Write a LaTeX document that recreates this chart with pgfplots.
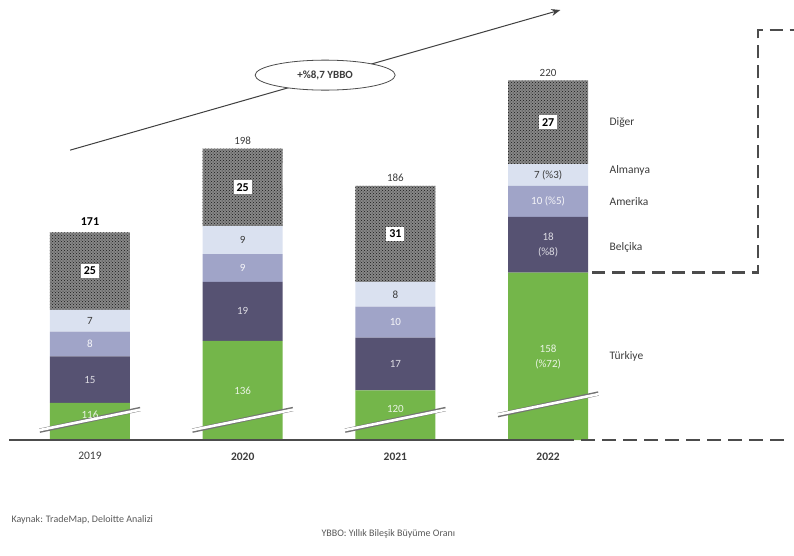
\documentclass[border=0pt]{standalone}
\usepackage{fontspec}
\setmainfont{Carlito}
\usepackage{pgfplots}
\pgfplotsset{compat=1.18}
\usepackage{pgfplotstable}
\usetikzlibrary{patterns,arrows.meta,shapes.geometric}
\definecolor{cTur}{RGB}{116,182,74}
\definecolor{cBel}{RGB}{86,82,114}
\definecolor{cAme}{RGB}{160,164,200}
\definecolor{cAlm}{RGB}{218,225,240}
\definecolor{cDig}{RGB}{135,135,135}
\definecolor{cTxt}{RGB}{60,60,60}
\tikzset{
  lab/.style={font=\fontsize{11}{12}\selectfont, inner sep=1pt},
  digl/.style={fill=white, text=black, inner sep=3pt, font=\bfseries\fontsize{12}{14}\selectfont},
  side/.style={anchor=west, text=cTxt, font=\fontsize{11.5}{13}\selectfont},
}
\pgfplotsset{geom/.style={
  at={(6pt,115pt)}, anchor=south west,
  x=152.7pt, y=3.1pt,
  xmin=-0.55, xmax=4.65, ymin=104, ymax=246}}
\pgfplotstableread{
x T B A G D total
0 116 15 8 7 25 171
1 136 19 9 9 25 198
2 120 17 10 8 31 186
3 158 18 10 7 27 220
}\data
\begin{document}
\begin{tikzpicture}
\path[use as bounding box] (0,0) rectangle (794pt,555pt);
% bars (axis truncated at 104, as in the original)
\begin{axis}[geom,
  ybar stacked, bar width=80pt,
  axis line style={draw=none},
  tick style={draw=none},
  ytick=\empty,
  xtick={0,1,2,3},
  xticklabels={2019,\textbf{2020},\textbf{2021},\textbf{2022}},
  xticklabel style={yshift=-9pt, font=\fontsize{11.5}{13}\selectfont, text=cTxt},
]
\addplot[fill=cTur, draw=none] table[x=x, y=T]{\data};
\addplot[fill=cBel, draw=none] table[x=x, y=B]{\data};
\addplot[fill=cAme, draw=none] table[x=x, y=A]{\data};
\addplot[fill=cAlm, draw=none] table[x=x, y=G]{\data};
\addplot[fill=cDig, draw=none, postaction={pattern=crosshatch dots, pattern color=black!90}] table[x=x, y=D]{\data};
\end{axis}
% overlay: labels and annotations
\begin{axis}[geom, hide axis, clip=false]
% axis break marks
\draw[line width=4.4pt, black!55] (axis cs:-0.33,107) -- (axis cs:0.33,114);
\draw[line width=2.6pt, white] (axis cs:-0.35,107) -- (axis cs:0.35,114);
\draw[line width=4.4pt, black!55] (axis cs:0.67,107) -- (axis cs:1.33,114);
\draw[line width=2.6pt, white] (axis cs:0.65,107) -- (axis cs:1.35,114);
\draw[line width=4.4pt, black!55] (axis cs:1.67,107) -- (axis cs:2.33,114);
\draw[line width=2.6pt, white] (axis cs:1.65,107) -- (axis cs:2.35,114);
\draw[line width=4.4pt, black!55] (axis cs:2.67,112) -- (axis cs:3.33,119);
\draw[line width=2.6pt, white] (axis cs:2.65,112) -- (axis cs:3.35,119);
% baseline
\draw[line width=1.4pt, black!70] (axis cs:-0.53,104) -- (axis cs:3.08,104);
\draw[line width=2.6pt, black!70, dash pattern=on 14pt off 7pt] (axis cs:3.08,104) -- (axis cs:4.55,104);

% value labels: Turkiye
\node[lab, text=white!85!cTur] at (axis cs:0,112) {116};
\node[lab, text=white!85!cTur] at (axis cs:1,120) {136};
\node[lab, text=white!85!cTur] at (axis cs:2,114) {120};
\node[lab, text=white!85!cTur] at (axis cs:3,133.5) {158};
\node[lab, text=white!85!cTur] at (axis cs:3,128.5) {(\%72)};
% Belcika
\node[lab, text=white!80!cBel] at (axis cs:0,123.5) {15};
\node[lab, text=white!80!cBel] at (axis cs:1,145.5) {19};
\node[lab, text=white!80!cBel] at (axis cs:2,128.5) {17};
\node[lab, text=white!80!cBel] at (axis cs:3,169.5) {18};
\node[lab, text=white!80!cBel] at (axis cs:3,164.5) {(\%8)};
% Amerika
\node[lab, text=white!90!cAme] at (axis cs:0,135) {8};
\node[lab, text=white!90!cAme] at (axis cs:1,159.5) {9};
\node[lab, text=white!90!cAme] at (axis cs:2,142) {10};
\node[lab, text=white!90!cAme] at (axis cs:3,181) {10 (\%5)};
% Almanya
\node[lab, text=cTxt] at (axis cs:0,142.5) {7};
\node[lab, text=cTxt] at (axis cs:1,168.5) {9};
\node[lab, text=cTxt] at (axis cs:2,151) {8};
\node[lab, text=cTxt] at (axis cs:3,189.5) {7 (\%3)};
% Diger
\node[digl] at (axis cs:0,158.5) {25};
\node[digl] at (axis cs:1,185.5) {25};
\node[digl] at (axis cs:2,170.5) {31};
\node[digl] at (axis cs:3,206.5) {27};
% totals
\node[anchor=south, text=black, font=\bfseries\fontsize{12}{14}\selectfont] at (axis cs:0,172) {171};
\node[lab, anchor=south, text=cTxt] at (axis cs:1,199) {198};
\node[lab, anchor=south, text=cTxt] at (axis cs:2,187) {186};
\node[lab, anchor=south, text=cTxt] at (axis cs:3,221) {220};

% right-hand labels
\node[side] at (axis cs:3.38,206.5) {Diğer};
\node[side] at (axis cs:3.38,191) {Almanya};
\node[side] at (axis cs:3.38,181) {Amerika};
\node[side] at (axis cs:3.38,166) {Belçika};
\node[side] at (axis cs:3.38,131) {Türkiye};

% dashed bracket
\draw[line width=2.4pt, black!70, dash pattern=on 13pt off 7pt] (axis cs:3.29,158) -- (axis cs:4.375,158) -- (axis cs:4.375,236.3) -- (axis cs:4.65,236.3);

\coordinate (a1) at (axis cs:-0.13,197.5);
\coordinate (a2) at (axis cs:3.08,242.7);
\coordinate (e) at (axis cs:1.54,221.7);
\end{axis}
% growth arrow
\draw[-{Stealth[length=9pt,width=7pt]}, line width=1pt, black!75] (a1) -- (a2);
\node[ellipse, draw=black!70, fill=white, line width=0.8pt, minimum width=140pt, minimum height=30pt, inner sep=1pt, text=cTxt, font=\bfseries\fontsize{11}{13}\selectfont] at (e) {+\%8,7 YBBO};
\node[anchor=west, text=black!65, font=\fontsize{10}{12}\selectfont] at (8pt,35pt) {Kaynak: TradeMap, Deloitte Analizi};
\node[anchor=west, text=black!65, font=\fontsize{10}{12}\selectfont] at (318pt,21pt) {YBBO: Yıllık Bileşik Büyüme Oranı};
\end{tikzpicture}
\end{document}
